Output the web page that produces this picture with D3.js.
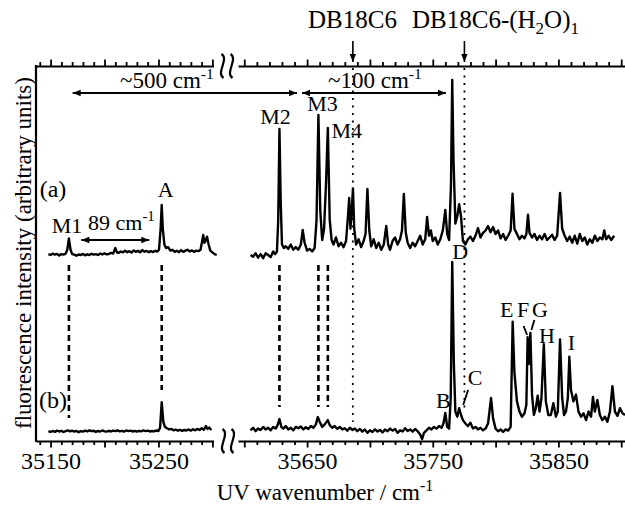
<!DOCTYPE html>
<html>
<head>
<meta charset="utf-8">
<script src="https://cdn.jsdelivr.net/npm/d3@7"></script>
<style>
  body { margin: 0; background: #fff; }
  svg { display: block; }
  text { font-family: "Liberation Serif", "Times New Roman", serif; fill: #000; }
</style>
</head>
<body>
<svg id="chart" width="625" height="507"></svg>
<script>
// Wavenumber windows of the two axis segments (cm-1)
const lowRange = [35136.5, 35301];
const highRange = [35595, 35903];

// Tick labels on the bottom axis
const lowTickLabels = [35150, 35250];
const highTickLabels = [35650, 35750, 35850];

// Trace (a), low-frequency window: [wavenumber, intensity]
const traceALow = [
  [35148,0.5],[35150,0],[35152,0.8],[35154,0.2],[35156,0.6],[35158,-0.3],[35160,0.5],[35162,0.2],
  [35164,0.8],[35165.5,3],[35167,9.5],[35168.5,3],[35170,0.5],[35172,0.2],[35174,-0.4],[35176,0.3],
  [35178,0],[35180,0.6],[35182,-0.2],[35184,0.4],[35186,0],[35188,0.7],[35190,0.2],[35192,0.5],
  [35194,0],[35196,0.8],[35198,0.3],[35200,0.9],[35202,0.4],[35204,0.6],[35206,1.2],[35208,0.8],
  [35210,4],[35211.5,1.5],[35213,1.2],[35215,2],[35217,1.5],[35219,2.5],[35221,1.6],[35223,2.2],
  [35225,1.4],[35227,2.6],[35229,1.8],[35231,2.4],[35233,1.5],[35235,2.8],[35237,1.9],[35239,2.3],
  [35241,1.6],[35243,2.2],[35245,1.7],[35247,2.4],[35249,2],[35250.5,3],[35252,15],[35253,28.6],
  [35254,15],[35255.5,6],[35257,4],[35259,4.5],[35261,2.5],[35263,3],[35265,1.8],[35267,2.4],
  [35269,1.6],[35271,2.8],[35273,1.8],[35275,2.5],[35277,3],[35279,2],[35281,2.6],[35283,1.8],
  [35285,2.5],[35287,2.2],[35289,3],[35290.5,8],[35291.5,11.4],[35292.5,7],[35293.5,8],[35295,10.5],
  [35296.5,6],[35298,2.5],[35300,1.5],[35302,0.5],[35304,0]
];

// Trace (a), high-frequency window
const traceAHigh = [
  [35605,0],[35607,-1],[35609,1],[35611,-1.5],[35613,0.5],[35615,-1.8],[35617,1],[35619,0],
  [35621,-1.2],[35623,2],[35624.5,0.5],[35626,2],[35627,20],[35628,72],[35629,30],[35630,6],
  [35631.5,4],[35633,5],[35635,3.5],[35637,6],[35639,3],[35641,4.5],[35643,3],[35645,6],
  [35646.5,14.3],[35648,7],[35650,2.5],[35652,3.5],[35654,2],[35656,4],[35657.5,20],[35659,80],
  [35660.5,25],[35662,8.6],[35663.5,15],[35665,40],[35666.5,72.6],[35668,20],[35669.5,8.6],[35671,6],
  [35673,10],[35675,5],[35677,7],[35679,4.5],[35681,8],[35682.5,22],[35683.5,32.6],[35684.5,15],
  [35685.5,25],[35686.5,38],[35687.5,15],[35689,6],[35691,9],[35693,4.5],[35695,8],[35696.5,12],
  [35698,37.7],[35699.5,14],[35701,5],[35703,9],[35705,4],[35707,7],[35709,3],[35711,6],
  [35713,16.6],[35714.5,6],[35716,3],[35718,8],[35720,10],[35722,6],[35724,9],[35725.5,14],
  [35727,34.9],[35728.5,13],[35730,7],[35732,4],[35734,7],[35736,5],[35738,8],[35740,11],
  [35742,6],[35744,9],[35745.5,21.7],[35747,11],[35748.5,14],[35750,8],[35752,10],[35754,6],
  [35756,9],[35758,14],[35760,25.7],[35761.5,12],[35763,8.6],[35764.5,40],[35765.5,100],[35766.5,55],
  [35768,18],[35769.5,22],[35771,29],[35772.5,22],[35774,8],[35776,6],[35778,9],[35780,10.5],
  [35782,8],[35784,11],[35786,15.4],[35788,10],[35790,12.6],[35792,14],[35794,16.5],[35796,13],
  [35798,16],[35800,12],[35802,14],[35804,9.5],[35806,12],[35808,8.6],[35810,11],[35812,14],
  [35813.5,35],[35815,15],[35817,12],[35819,9],[35821,11],[35823,9.5],[35824.5,12],[35825.8,23],
  [35827,12.6],[35829,10],[35831,12],[35833,8.6],[35835,11],[35837,9],[35839,12],[35841,8.6],
  [35843,10],[35845,11.5],[35847,8.6],[35849,11],[35851.3,35.4],[35853,15],[35855,11],[35857,8],
  [35859,10.5],[35861,7],[35863,11],[35865,6.5],[35867,12],[35869,8],[35871,10],[35873,6],
  [35875,9],[35877,7],[35879,11],[35881,8],[35883,10],[35885,9],[35886.5,14],[35888,9],
  [35890,11],[35892,8.6],[35894.4,11]
];

// Trace (b), low-frequency window
const traceBLow = [
  [35148,0.5],[35150,0],[35152,0.6],[35154,0.1],[35156,0.8],[35158,0.3],[35160,0.7],[35162,0],
  [35164,0.5],[35166,0.9],[35168,0.4],[35170,0.8],[35172,0.2],[35174,0.6],[35176,-0.1],[35178,0.5],
  [35180,0.2],[35182,0.8],[35184,0.4],[35186,1],[35188,0.5],[35190,0.7],[35192,0.1],[35194,0.6],
  [35196,0.3],[35198,0.9],[35200,0.4],[35202,0.2],[35204,0.7],[35206,0.3],[35208,0.8],[35210,0.5],
  [35212,1],[35214,0.4],[35216,0.7],[35218,0.2],[35220,0.9],[35222,0.5],[35224,0.8],[35226,0.3],
  [35228,0.6],[35230,0.2],[35232,0.7],[35234,0.4],[35236,0.9],[35238,0.5],[35240,0.8],[35242,0.3],
  [35244,0.6],[35246,0.4],[35248,0.9],[35250,0.6],[35251.5,2.5],[35253,17.5],[35254.5,6],[35256,3],
  [35258,2.2],[35260,1.5],[35262,1.8],[35264,1],[35266,1.4],[35268,0.8],[35270,1.3],[35272,0.7],
  [35274,1.2],[35276,0.9],[35278,1.5],[35280,0.8],[35282,1.6],[35284,1],[35286,1.8],[35288,1.2],
  [35290,2.2],[35292,1.3],[35294,3.5],[35295.5,1.8],[35297,2.6],[35299,1.2]
];

// Trace (b), high-frequency window
const traceBHigh = [
  [35605,1],[35607,2.5],[35609,0.5],[35611,2],[35613,1.2],[35615,3],[35617,1.5],[35619,2.5],
  [35621,1],[35623,3],[35625,2],[35626.5,4],[35628,7.6],[35629.5,3],[35631,2],[35633,3.5],
  [35635,1.5],[35637,2.5],[35639,1],[35641,3],[35643,2.2],[35645,3.2],[35647,1.5],[35649,2.8],
  [35651,1.8],[35653,3.5],[35655,2.5],[35657,4.5],[35658.5,8.8],[35660,6],[35662,3],[35664,4.5],
  [35666.5,7],[35668,4],[35670,2.5],[35672,3.5],[35674,1.8],[35676,3],[35678,1.5],[35680,2.2],
  [35682,0.8],[35684,2.5],[35686,1.2],[35688,2],[35690,0.5],[35692,1.8],[35694,0.2],[35696,1.5],
  [35698,-0.5],[35700,1],[35702,0],[35704,1.6],[35706,0.3],[35708,1.2],[35710,-0.3],[35712,1.5],
  [35714,0.5],[35716,2],[35718,0.8],[35720,1.8],[35722,-0.5],[35724,1],[35726,0.3],[35728,2.2],
  [35730,0.6],[35732,1.5],[35734,0.2],[35736,1.8],[35738,0.4],[35740,-1.5],[35741.5,-4.2],[35743,-0.5],
  [35745,1],[35747,2.5],[35749,1.5],[35751,3],[35753,2],[35755,3.5],[35757,2.5],[35758.5,5],
  [35760,11.2],[35761.5,3],[35763,2],[35764.3,20],[35765.5,100],[35766.8,40],[35768,12],[35769.5,9],
  [35771,14],[35772.5,10],[35774,7],[35776,5],[35778,3.5],[35780,5.5],[35782,2],[35784,3],
  [35786,1.5],[35788,2.5],[35790,1],[35792,2],[35794,5],[35796.4,20],[35798,8],[35800,2],
  [35802,0.5],[35804,1.5],[35806,0],[35808,1.5],[35810,0.8],[35812,3],[35813.6,64.9],[35815,35],
  [35817,18],[35819,12],[35821,9],[35823,11],[35824.5,16],[35825.5,55.7],[35826.6,40],[35827.7,58.2],
  [35829,22],[35830.5,10],[35832,14],[35833.5,21.4],[35835,12],[35836.5,20],[35838.4,51.6],[35840,18],
  [35842,10],[35844,10],[35846,17],[35848,9],[35849.5,12],[35851.3,54.5],[35853,20],[35854.5,10],
  [35856,12],[35857.5,20],[35858.7,44.3],[35860,24.7],[35862,18],[35864,22],[35866,12],[35868,9],
  [35870,11],[35872,7],[35874,12],[35876,9],[35877.5,20.6],[35879,12],[35881,18.8],[35883,10],
  [35885,7],[35887,9],[35889,6],[35891,12],[35893,27],[35895,12],[35897,9.5],[35899,14],
  [35901,11],[35903,10]
];

// Band origins of the bare crown ether and its monohydrate (cm-1)
const originNames = ["DB18C6", "DB18C6-(H2O)1"];
const originValues = [35686.4, 35775.2];

// Bands common to both spectra, linked by dashed guides
const sharedLow = [35167, 35253];
const sharedHigh = [35628, 35659, 35666.5];

// Band labels: name, wavenumber, trace
const bandNames = ["M1", "A", "M2", "M3", "M4", "B", "C", "D", "E", "F", "G", "H", "I"];
const bandValues = [35167, 35253, 35628, 35659, 35666.5, 35760, 35771, 35765.5, 35813.6, 35825.5, 35827.7, 35838.4, 35858.7];

const svg = d3.select("#chart");
const FONT = '"Liberation Serif", "Times New Roman", serif';

const AX_LEFT = 36, AX_TOP = 66, AX_BOTTOM = 441;
const xLow = d3.scaleLinear().domain(lowRange).range([AX_LEFT, 213.5]);
const xHigh = d3.scaleLinear().domain(highRange).range([238, 625]);
const yA = d3.scaleLinear().domain([0, 100]).range([255, 80]);
const yB = d3.scaleLinear().domain([0, 100]).range([432, 262]);

const xOf = w => (w < 35450 ? xLow(w) : xHigh(w));

// arrow markers
const defs = svg.append("defs");
function marker(id, dir) {
  defs.append("marker").attr("id", id)
    .attr("viewBox", "0 -5 10 10").attr("refX", dir > 0 ? 10 : 0).attr("refY", 0)
    .attr("markerWidth", 10).attr("markerHeight", 8).attr("markerUnits", "userSpaceOnUse")
    .attr("orient", "auto")
    .append("path")
    .attr("d", dir > 0 ? "M0,-4L10,0L0,4Z" : "M10,-4L0,0L10,4Z")
    .attr("fill", "#000");
}
marker("headEnd", 1);
marker("headStart", -1);

// ---- axes ----
function drawAxis(scale, labels, y, orient) {
  const [d0, d1] = scale.domain();
  const ticks = d3.range(Math.ceil(d0 / 10) * 10, d1 + 0.01, 10);
  const gen = (orient === "top" ? d3.axisTop(scale) : d3.axisBottom(scale))
    .tickValues(ticks).tickSizeOuter(0)
    .tickFormat(d => (orient === "bottom" && labels.includes(d)) ? d3.format("d")(d) : "");
  const g = svg.append("g").attr("transform", `translate(0,${y})`).call(gen);
  g.select(".domain").attr("stroke", "#000").attr("stroke-width", 2);
  g.selectAll(".tick line").attr("stroke", "#000").attr("stroke-width", 1.8)
    .attr("y2", d => (d % 50 === 0 ? 6.5 : 4) * (orient === "top" ? -1 : 1));
  g.selectAll(".tick text").attr("font-family", FONT).attr("font-size", 24)
    .attr("fill", "#000").attr("dy", null).attr("y", 28);
}
drawAxis(xLow, lowTickLabels, AX_BOTTOM, "bottom");
drawAxis(xHigh, highTickLabels, AX_BOTTOM, "bottom");
drawAxis(xLow, [], AX_TOP, "top");
drawAxis(xHigh, [], AX_TOP, "top");

svg.append("line").attr("x1", AX_LEFT).attr("x2", AX_LEFT)
  .attr("y1", AX_TOP - 1).attr("y2", AX_BOTTOM + 1)
  .attr("stroke", "#000").attr("stroke-width", 2.2);

// axis break marks
function breakMark(cx, cy) {
  const p = (x) => `M${x - 1},${cy - 12} C${x + 7},${cy - 7} ${x - 7},${cy + 7} ${x + 1},${cy + 12}`;
  svg.append("path").attr("d", p(cx - 4.5) + " " + p(cx + 4.5))
    .attr("fill", "none").attr("stroke", "#000").attr("stroke-width", 2.2);
}
breakMark(227, AX_TOP);
breakMark(228, AX_BOTTOM);

// ---- guides ----
const guides = svg.append("g");
originValues.forEach((w, i) => {
  guides.append("line").attr("x1", xHigh(w)).attr("x2", xHigh(w))
    .attr("y1", AX_TOP + 2).attr("y2", i === 0 ? 422 : 408)
    .attr("stroke", "#000").attr("stroke-width", 1.8).attr("stroke-dasharray", "2,5.5");
  guides.append("line").attr("x1", xHigh(w)).attr("x2", xHigh(w))
    .attr("y1", 41).attr("y2", AX_TOP - 4)
    .attr("stroke", "#000").attr("stroke-width", 1.6).attr("marker-end", "url(#headEnd)");
});
const dashBottoms = { 35167: 418, 35253: 390 };
sharedLow.concat(sharedHigh).forEach(w => {
  guides.append("line").attr("x1", xOf(w)).attr("x2", xOf(w))
    .attr("y1", 265).attr("y2", dashBottoms[w] || 407)
    .attr("stroke", "#000").attr("stroke-width", 2.6).attr("stroke-dasharray", "6,4");
});

// ---- spectra ----
function trace(data, xs, ys) {
  svg.append("path").datum(data)
    .attr("d", d3.line().x(d => xs(d[0])).y(d => ys(d[1])))
    .attr("fill", "none").attr("stroke", "#000").attr("stroke-width", 2.4)
    .attr("stroke-linejoin", "round");
}
trace(traceALow, xLow, yA);
trace(traceAHigh, xHigh, yA);
trace(traceBLow, xLow, yB);
trace(traceBHigh, xHigh, yB);

// ---- text helpers ----
function label(x, y, txt, size, anchor) {
  return svg.append("text").attr("x", x).attr("y", y).attr("font-size", size)
    .attr("text-anchor", anchor || "middle").text(txt);
}
function cmLabel(x, y, prefix, size, anchor) {
  const t = svg.append("text").attr("x", x).attr("y", y).attr("font-size", size)
    .attr("text-anchor", anchor || "start");
  t.append("tspan").text(prefix + " cm");
  t.append("tspan").attr("dy", -9).attr("font-size", size * 0.68).text("-1");
  return t;
}

// band labels, placed relative to the peak they name
const onTraceA = { M1: 1, A: 1, M2: 1, M3: 1, M4: 1 };
const bandOffsets = {
  M1: [-2, -5], A: [4, -8], M2: [-4, -5], M3: [4, -4], M4: [19, 10],
  B: [-2, -5], C: [16, -23], D: [8, -3], E: [-6, -5], F: [-4.5, -20],
  G: [9.5, -16], H: [3, -1], I: [2, -7]
};
const levelA = new Map(traceALow.concat(traceAHigh));
const levelB = new Map(traceBHigh);
bandNames.forEach((n, i) => {
  const w = bandValues[i];
  const y = onTraceA[n] ? yA(levelA.get(w)) : yB(levelB.get(w));
  const off = bandOffsets[n];
  label(xOf(w) + off[0], y + off[1], n, 22);
});
// leader ticks for C, F, G
function leader(x1, y1, x2, y2) {
  svg.append("line").attr("x1", x1).attr("y1", y1).attr("x2", x2).attr("y2", y2)
    .attr("stroke", "#000").attr("stroke-width", 1.8);
}
leader(xHigh(35771) + 9, 390, xHigh(35771) + 4, 405);
leader(xHigh(35825.5) - 4, 326, xHigh(35825.5) - 0.5, 335);
leader(xHigh(35827.7) + 4, 320, xHigh(35827.7) + 1, 330);

// trace tags
label(53, 197, "(a)", 24);
label(53, 408, "(b)", 24);

// spacing arrows
function dblArrow(x1, x2, y) {
  svg.append("line").attr("x1", x1).attr("x2", x2).attr("y1", y).attr("y2", y)
    .attr("stroke", "#000").attr("stroke-width", 1.8)
    .attr("marker-start", "url(#headStart)").attr("marker-end", "url(#headEnd)");
}
dblArrow(xLow(35170.5), xHigh(35642), 93);
dblArrow(xHigh(35646), xHigh(35760.5), 93);
dblArrow(xLow(35178.5), xLow(35241.5), 240);
cmLabel(120, 88, "~500", 23);
cmLabel(328, 88, "~100", 23);
cmLabel(88, 230, "89", 22);

// species labels
label(308, 28, originNames[0], 25, "start");
const sp = svg.append("text").attr("x", 412).attr("y", 28).attr("font-size", 25);
sp.append("tspan").text("DB18C6-(H");
sp.append("tspan").attr("dy", 6).attr("font-size", 17).text("2");
sp.append("tspan").attr("dy", -6).text("O)");
sp.append("tspan").attr("dy", 6).attr("font-size", 17).text("1");

// axis titles
const xt = svg.append("text").attr("x", 325).attr("y", 500).attr("font-size", 23).attr("text-anchor", "middle");
xt.append("tspan").text("UV wavenumber / cm");
xt.append("tspan").attr("dy", -9).attr("font-size", 16).text("-1");
svg.append("text").attr("transform", "translate(31,253) rotate(-90)")
  .attr("font-size", 23).attr("text-anchor", "middle")
  .text("fluorescence intensity (arbitrary units)");
</script>
</body>
</html>
